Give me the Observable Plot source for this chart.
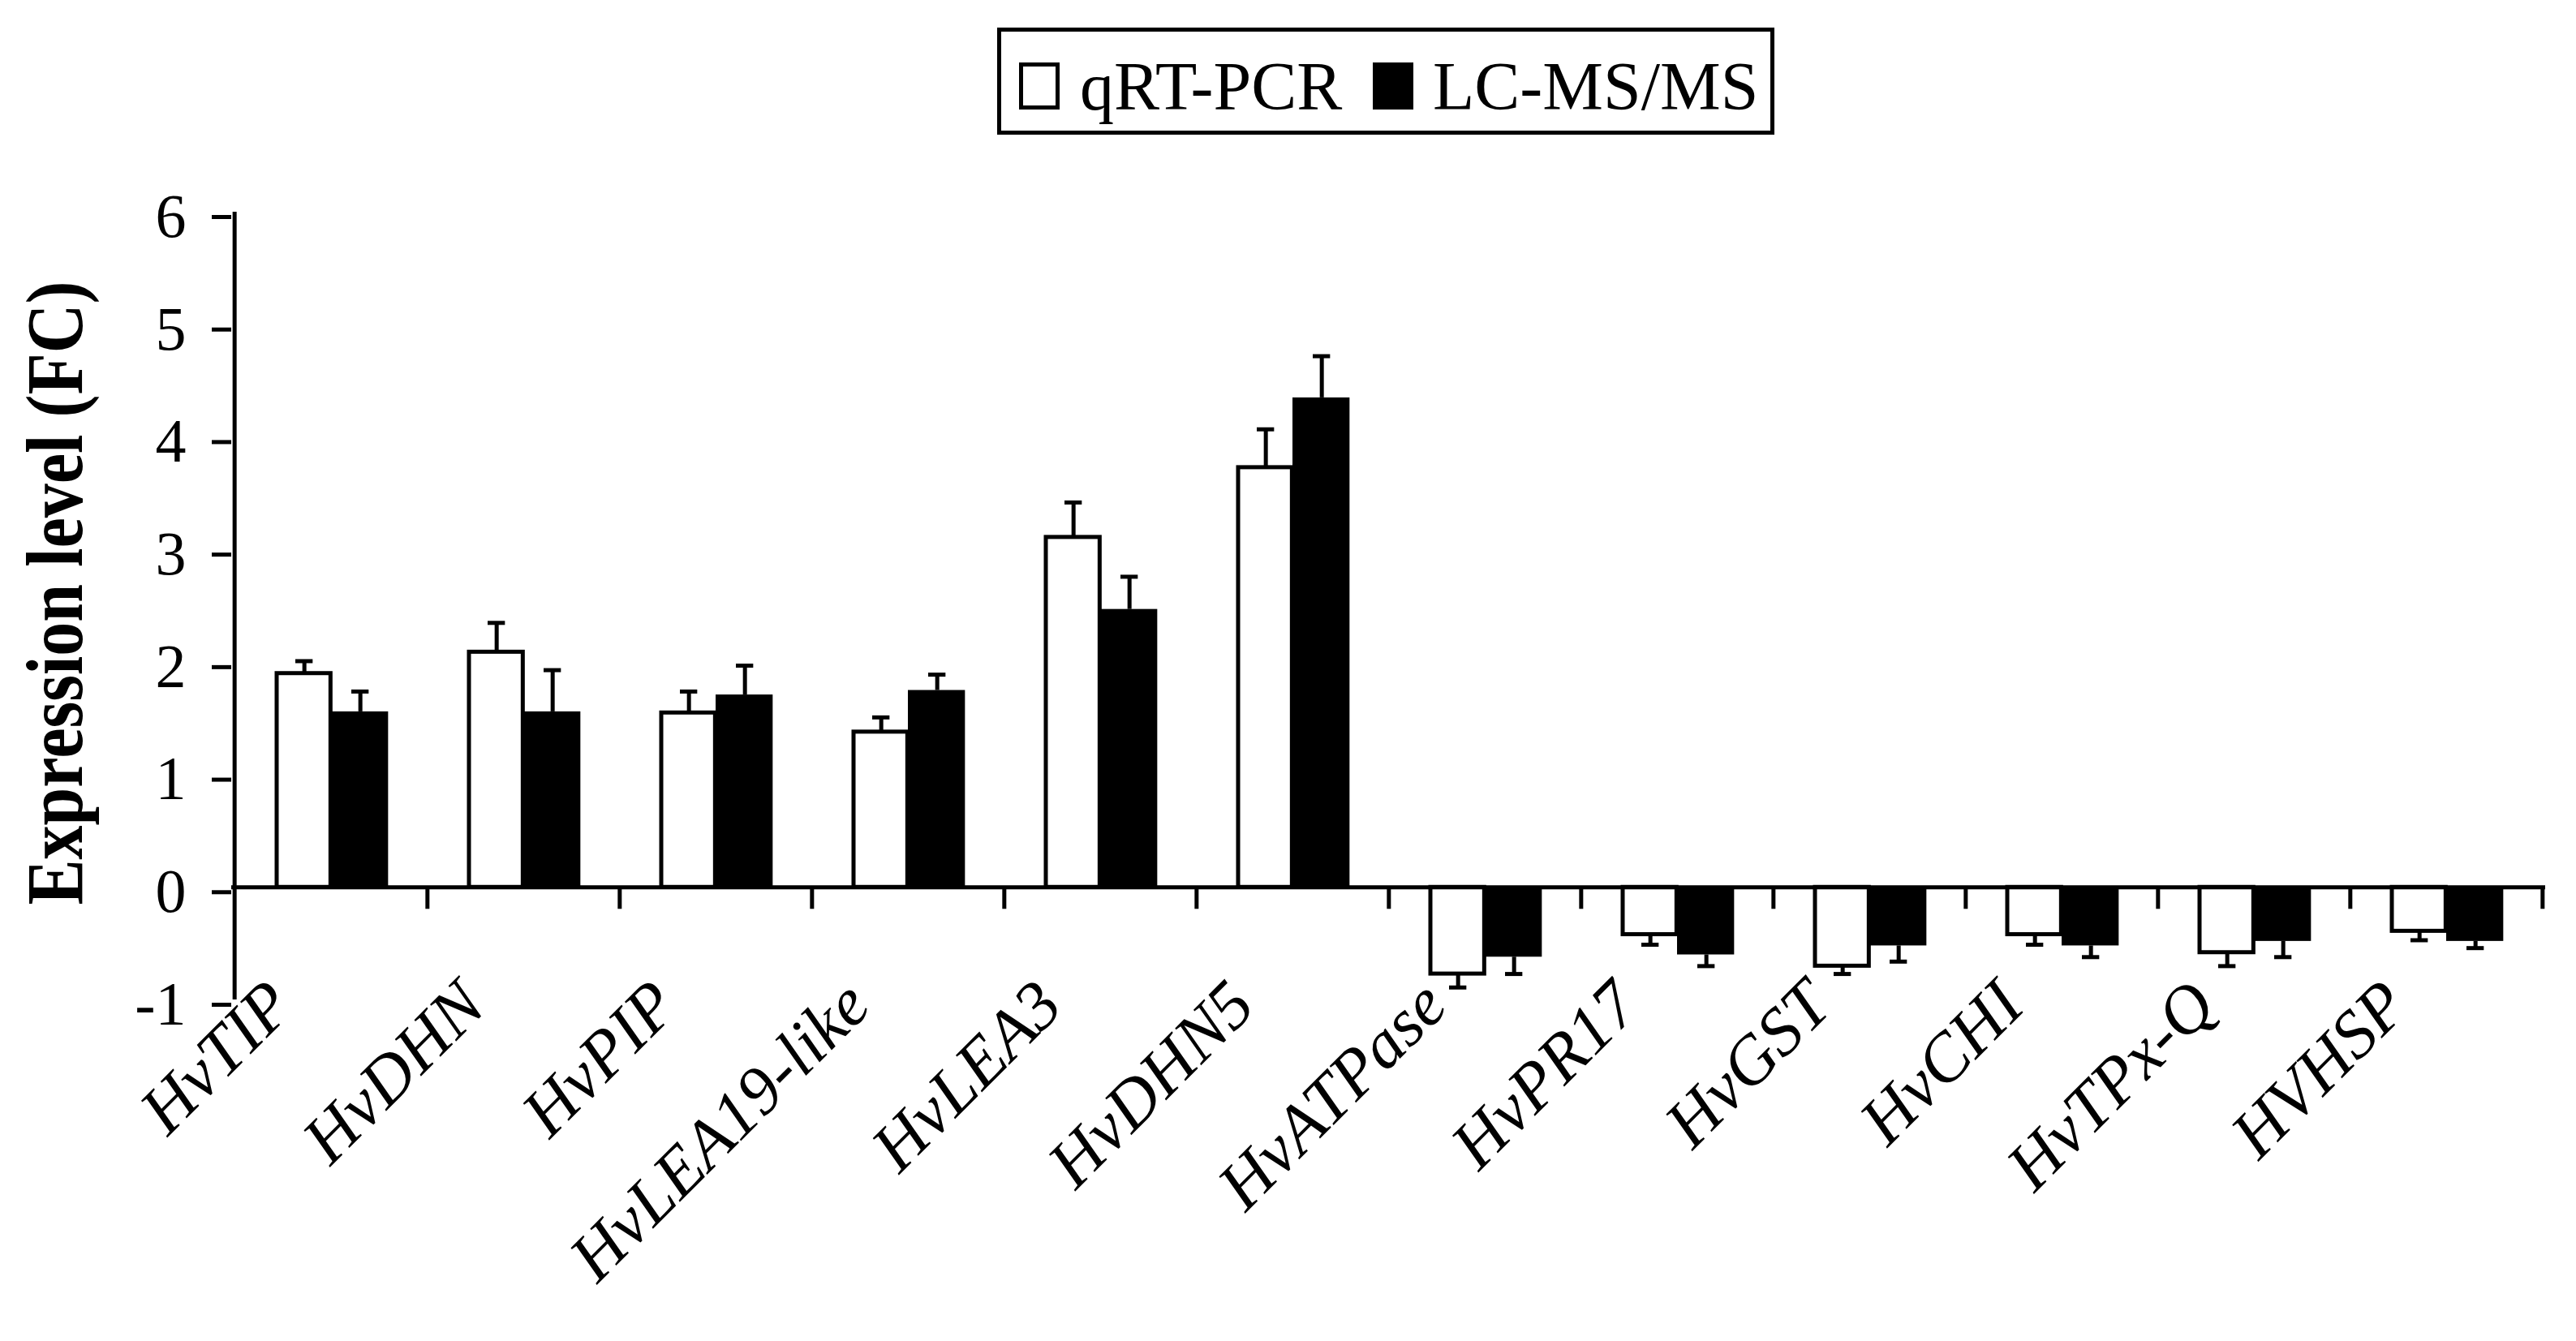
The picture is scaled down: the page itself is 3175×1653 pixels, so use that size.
<!DOCTYPE html>
<html>
<head>
<meta charset="utf-8">
<script src="https://cdn.jsdelivr.net/npm/d3@7"></script>
<script src="https://cdn.jsdelivr.net/npm/@observablehq/plot@0.6"></script>
<style>
  html, body { margin: 0; padding: 0; background: #fff; }
  #page { position: relative; width: 3175px; height: 1653px; background: #fff; }
  #legend { position: relative; width: 3175px; height: 200px; font-family: "Liberation Serif", "Times New Roman", serif; color: #000; }
  #legend .box { position: absolute; left: 1229px; top: 34px; width: 958px; height: 132px; box-sizing: border-box; border: 5px solid #000; }
  #legend .sw { position: absolute; top: 77px; width: 50px; height: 58px; box-sizing: border-box; border: 5px solid #000; }
  #legend .lab { position: absolute; top: 65px; font-size: 84px; line-height: 1; white-space: nowrap; }
</style>
</head>
<body>
<div id="page">
  <div id="legend"></div>
  <div id="chart"></div>
</div>
<script>
// ---- data ----
const genes = ["HvTIP", "HvDHN", "HvPIP", "HvLEA19-like", "HvLEA3", "HvDHN5",
               "HvATPase", "HvPR17", "HvGST", "HvCHI", "HvTPx-Q", "HVHSP"];
const qrtPcr    = [1.90, 2.09, 1.55, 1.38, 3.11, 3.73, -0.77, -0.42, -0.70, -0.42, -0.58, -0.39];
const qrtPcrErr = [0.11, 0.26, 0.19, 0.13, 0.31, 0.34,  0.12,  0.09,  0.07,  0.09,  0.12,  0.08];
const lcMsMs    = [1.56, 1.56, 1.71, 1.75, 2.47, 4.35, -0.62, -0.60, -0.52, -0.52, -0.48, -0.48];
const lcMsMsErr = [0.18, 0.37, 0.26, 0.14, 0.29, 0.37,  0.15,  0.10,  0.14,  0.10,  0.14,  0.06];
const seriesNames = ["qRT-PCR", "LC-MS/MS"];
const seriesFills = ["#ffffff", "#000000"];
const yTicks = [-1, 0, 1, 2, 3, 4, 5, 6];
const yTitle = ["Expression level (FC)"];

// ---- legend (HTML, above the SVG) ----
const legend = document.getElementById("legend");
const box = document.createElement("div"); box.className = "box"; legend.appendChild(box);
const swLeft = [1256, 1692], labLeft = [1331, 1766];
seriesNames.forEach((name, i) => {
  const sw = document.createElement("div");
  sw.className = "sw"; sw.style.left = swLeft[i] + "px"; sw.style.background = seriesFills[i];
  legend.appendChild(sw);
  const lab = document.createElement("div");
  lab.className = "lab"; lab.style.left = labLeft[i] + "px"; lab.textContent = name;
  legend.appendChild(lab);
});

// ---- chart ----
const W = 3175, H = 1453, ML = 285, MR = 38, MT = 61, MB = 421;
const BW = (W - ML - MR) / genes.length;
const rows = genes.map((g, i) => ({gene: g, a: qrtPcr[i], ae: qrtPcrErr[i], b: lcMsMs[i], be: lcMsMsErr[i]}));
const tip = (v, e) => v + Math.sign(v) * e;
const wL = 52, wR = 119, bL = 119, bR = 190, wC = 86, bC = 155, cap = 11;
const serif = "Liberation Serif";

const chart = Plot.plot({
  width: W, height: H,
  marginLeft: ML, marginRight: MR, marginTop: MT, marginBottom: MB,
  style: {background: "#fff", color: "#000", fontFamily: serif},
  x: {domain: genes, padding: 0},
  y: {domain: [-1, 6]},
  marks: [
    Plot.barY(rows, {x: "gene", y: "a", fill: seriesFills[0], stroke: "#000", strokeWidth: 5,
      insetLeft: wL, insetRight: BW - wR}),
    Plot.barY(rows, {x: "gene", y: "b", fill: seriesFills[1],
      insetLeft: bL, insetRight: BW - bR}),
    Plot.ruleX(rows, {x: "gene", y1: "a", y2: d => tip(d.a, d.ae), stroke: "#000", strokeWidth: 5, dx: wC - BW / 2}),
    Plot.ruleX(rows, {x: "gene", y1: "b", y2: d => tip(d.b, d.be), stroke: "#000", strokeWidth: 5, dx: bC - BW / 2}),
    Plot.tickY(rows, {x: "gene", y: d => tip(d.a, d.ae), stroke: "#000", strokeWidth: 5,
      insetLeft: wC - cap, insetRight: BW - wC - cap}),
    Plot.tickY(rows, {x: "gene", y: d => tip(d.b, d.be), stroke: "#000", strokeWidth: 5,
      insetLeft: bC - cap, insetRight: BW - bC - cap}),
    // x axis line at zero and category boundary ticks
    Plot.ruleY([0], {stroke: "#000", strokeWidth: 5}),
    Plot.ruleX(genes, {x: d => d, y1: 0, y2: 0, insetBottom: -27, dx: BW / 2, stroke: "#000", strokeWidth: 5}),
    // y axis line
    Plot.ruleX([genes[0]], {x: d => d, y1: -1, y2: 6, dx: -BW / 2, stroke: "#000", strokeWidth: 5}),
    Plot.axisY({ticks: yTicks, tickSize: 24, tickPadding: 32, tickFormat: d => String(d),
      fontSize: 76, fontFamily: serif, strokeWidth: 5, dy: 6, label: null}),
    Plot.axisX({tickSize: 0, tickPadding: 22, tickRotate: -45, fontSize: 84, fontStyle: "italic",
      fontFamily: serif, dx: -62, dy: -30, label: null}),
    Plot.text(yTitle, {text: d => d, frameAnchor: "left", rotate: -90, textAnchor: "middle", lineAnchor: "bottom",
      dx: -185, dy: -16, fontSize: 100, fontWeight: "bold", fontFamily: serif})
  ]
});
// the reference's title face is narrower than Liberation Serif Bold: fit it to the same run length
chart.querySelectorAll("text").forEach(t => {
  if (t.textContent === yTitle[0]) {
    t.setAttribute("textLength", 769);
    t.setAttribute("lengthAdjust", "spacingAndGlyphs");
  }
});
document.getElementById("chart").appendChild(chart);
</script>
</body>
</html>
